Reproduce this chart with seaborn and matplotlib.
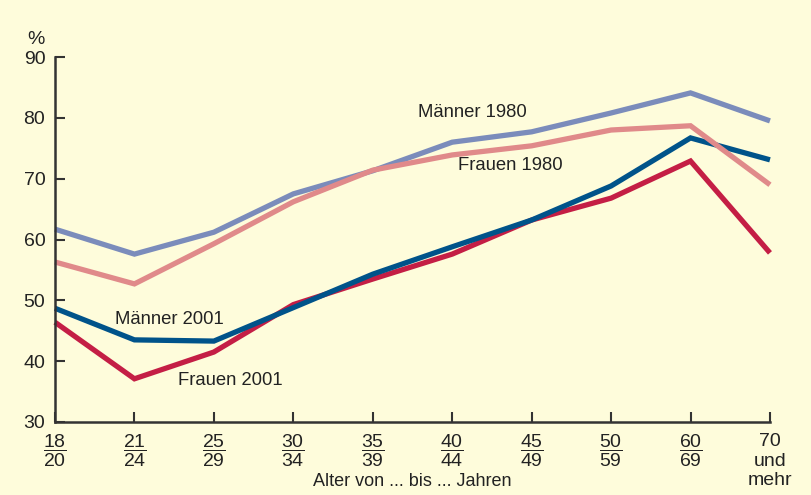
import numpy as np
import pandas as pd
import seaborn as sns
import matplotlib
matplotlib.use("Agg")
import matplotlib.pyplot as plt

# age groups and participation rates (%)
ages = ["18-20", "21-24", "25-29", "30-34", "35-39", "40-44", "45-49", "50-59", "60-69", "70+"]
tick_labels = [r"$\dfrac{18}{20}$", r"$\dfrac{21}{24}$", r"$\dfrac{25}{29}$", r"$\dfrac{30}{34}$",
               r"$\dfrac{35}{39}$", r"$\dfrac{40}{44}$", r"$\dfrac{45}{49}$", r"$\dfrac{50}{59}$",
               r"$\dfrac{60}{69}$", "70\nund\nmehr"]
maenner_1980 = [61.7, 57.6, 61.2, 67.5, 71.3, 76.0, 77.7, 80.8, 84.1, 79.5]
frauen_1980 = [56.3, 52.7, 59.3, 66.2, 71.4, 73.9, 75.4, 78.0, 78.7, 69.0]
maenner_2001 = [48.7, 43.5, 43.3, 48.8, 54.3, 58.8, 63.2, 68.8, 76.7, 73.1]
frauen_2001 = [46.4, 37.1, 41.5, 49.3, 53.5, 57.6, 63.2, 66.8, 72.9, 57.8]

# drawing order matters for the crossings
series = {
    "Frauen 2001": frauen_2001,
    "Männer 2001": maenner_2001,
    "Männer 1980": maenner_1980,
    "Frauen 1980": frauen_1980,
}
colors = {
    "Männer 2001": "#00538a",
    "Frauen 2001": "#c41e45",
    "Männer 1980": "#7b8cbb",
    "Frauen 1980": "#e08a8a",
}

rows = []
for name, vals in series.items():
    for i, v in enumerate(vals):
        rows.append({"pos": i, "wert": v, "gruppe": name})
df = pd.DataFrame(rows)

bg = "#fefcdb"
txt = "#222222"
sns.set_theme(style="ticks")
plt.rcParams["font.family"] = ["Liberation Sans", "DejaVu Sans"]
plt.rcParams["mathtext.fontset"] = "custom"
plt.rcParams["mathtext.rm"] = "Liberation Sans"
plt.rcParams["mathtext.it"] = "Liberation Sans"

fig = plt.figure(figsize=(8.11, 4.95), dpi=100, facecolor=bg)
ax = fig.add_axes([0.0678, 0.1475, 0.8816, 0.7373])
ax.set_facecolor(bg)

sns.lineplot(data=df, x="pos", y="wert", hue="gruppe", hue_order=list(series.keys()),
             palette=colors, linewidth=3.8, legend=False, ax=ax)
for ln in ax.lines:
    ln.set_solid_capstyle("butt")
    ln.set_solid_joinstyle("miter")
    ln.set_clip_on(False)

ax.set_xlim(0, 9)
ax.set_ylim(30, 90)
ax.set_yticks(range(30, 91, 10))
ax.set_xticks(range(10))
ax.set_xticklabels(tick_labels)
ax.tick_params(axis="both", direction="in", length=7, width=1.5, color="#333333",
               labelsize=14, labelcolor=txt)
ax.tick_params(axis="x", pad=8)
ax.tick_params(axis="y", pad=7)
sns.despine(ax=ax)
for s in ["left", "bottom"]:
    ax.spines[s].set_linewidth(1.8)
    ax.spines[s].set_color("#333333")
ax.set_xlabel("Alter von ... bis ... Jahren", fontsize=13, color=txt, va="center")
ax.xaxis.set_label_coords(0.5, -0.162)
ax.set_ylabel("")

# line labels
ax.text(4.57, 80.9, "Männer 1980", fontsize=13.3, color=txt, va="center")
ax.text(5.07, 72.2, "Frauen 1980", fontsize=13.3, color=txt, va="center")
ax.text(0.75, 46.9, "Männer 2001", fontsize=13.3, color=txt, va="center")
ax.text(1.55, 36.9, "Frauen 2001", fontsize=13.3, color=txt, va="center")
ax.text(-0.015, 1.035, "%", transform=ax.transAxes, fontsize=14, color=txt, ha="right")

fig.savefig("out.png", dpi=100, facecolor=bg)
